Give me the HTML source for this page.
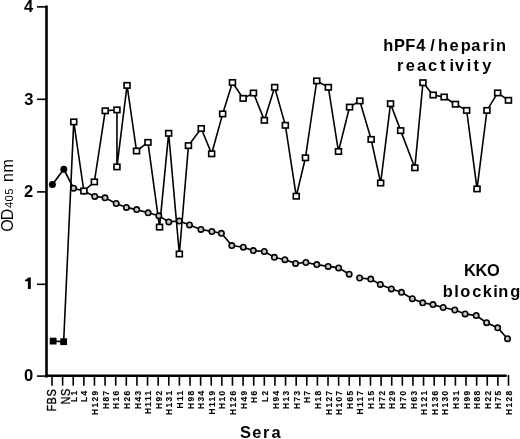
<!DOCTYPE html><html><head><meta charset="utf-8"><style>html,body{margin:0;padding:0;background:#fff;}svg{display:block;will-change:transform;}text{font-family:"Liberation Sans",sans-serif;}</style></head><body>
<svg width="520" height="439" viewBox="0 0 520 439">
<rect width="520" height="439" fill="#fff"/>
<g stroke="#000" fill="none" stroke-linecap="butt">
<line x1="46.5" y1="5.6" x2="46.5" y2="377.4" stroke-width="2.6"/>
<line x1="45.2" y1="375.85" x2="506.7" y2="375.85" stroke-width="2.5"/>
<line x1="37" y1="376.10" x2="46" y2="376.10" stroke-width="1.6"/>
<line x1="37" y1="284.30" x2="46" y2="284.30" stroke-width="1.6"/>
<line x1="37" y1="191.90" x2="46" y2="191.90" stroke-width="1.6"/>
<line x1="37" y1="99.30" x2="46" y2="99.30" stroke-width="1.6"/>
<line x1="37" y1="6.90" x2="46" y2="6.90" stroke-width="1.6"/>
<line x1="52.00" y1="376" x2="52.00" y2="385.7" stroke-width="1.6"/>
<line x1="62.62" y1="376" x2="62.62" y2="385.7" stroke-width="1.6"/>
<line x1="73.23" y1="376" x2="73.23" y2="385.7" stroke-width="1.6"/>
<line x1="83.85" y1="376" x2="83.85" y2="385.7" stroke-width="1.6"/>
<line x1="94.46" y1="376" x2="94.46" y2="385.7" stroke-width="1.6"/>
<line x1="105.08" y1="376" x2="105.08" y2="385.7" stroke-width="1.6"/>
<line x1="115.70" y1="376" x2="115.70" y2="385.7" stroke-width="1.6"/>
<line x1="126.31" y1="376" x2="126.31" y2="385.7" stroke-width="1.6"/>
<line x1="136.93" y1="376" x2="136.93" y2="385.7" stroke-width="1.6"/>
<line x1="147.54" y1="376" x2="147.54" y2="385.7" stroke-width="1.6"/>
<line x1="158.16" y1="376" x2="158.16" y2="385.7" stroke-width="1.6"/>
<line x1="168.78" y1="376" x2="168.78" y2="385.7" stroke-width="1.6"/>
<line x1="179.39" y1="376" x2="179.39" y2="385.7" stroke-width="1.6"/>
<line x1="190.01" y1="376" x2="190.01" y2="385.7" stroke-width="1.6"/>
<line x1="200.62" y1="376" x2="200.62" y2="385.7" stroke-width="1.6"/>
<line x1="211.24" y1="376" x2="211.24" y2="385.7" stroke-width="1.6"/>
<line x1="221.86" y1="376" x2="221.86" y2="385.7" stroke-width="1.6"/>
<line x1="232.47" y1="376" x2="232.47" y2="385.7" stroke-width="1.6"/>
<line x1="243.09" y1="376" x2="243.09" y2="385.7" stroke-width="1.6"/>
<line x1="253.70" y1="376" x2="253.70" y2="385.7" stroke-width="1.6"/>
<line x1="264.32" y1="376" x2="264.32" y2="385.7" stroke-width="1.6"/>
<line x1="274.94" y1="376" x2="274.94" y2="385.7" stroke-width="1.6"/>
<line x1="285.55" y1="376" x2="285.55" y2="385.7" stroke-width="1.6"/>
<line x1="296.17" y1="376" x2="296.17" y2="385.7" stroke-width="1.6"/>
<line x1="306.78" y1="376" x2="306.78" y2="385.7" stroke-width="1.6"/>
<line x1="317.40" y1="376" x2="317.40" y2="385.7" stroke-width="1.6"/>
<line x1="328.02" y1="376" x2="328.02" y2="385.7" stroke-width="1.6"/>
<line x1="338.63" y1="376" x2="338.63" y2="385.7" stroke-width="1.6"/>
<line x1="349.25" y1="376" x2="349.25" y2="385.7" stroke-width="1.6"/>
<line x1="359.86" y1="376" x2="359.86" y2="385.7" stroke-width="1.6"/>
<line x1="370.48" y1="376" x2="370.48" y2="385.7" stroke-width="1.6"/>
<line x1="381.10" y1="376" x2="381.10" y2="385.7" stroke-width="1.6"/>
<line x1="391.71" y1="376" x2="391.71" y2="385.7" stroke-width="1.6"/>
<line x1="402.33" y1="376" x2="402.33" y2="385.7" stroke-width="1.6"/>
<line x1="412.94" y1="376" x2="412.94" y2="385.7" stroke-width="1.6"/>
<line x1="423.56" y1="376" x2="423.56" y2="385.7" stroke-width="1.6"/>
<line x1="434.18" y1="376" x2="434.18" y2="385.7" stroke-width="1.6"/>
<line x1="444.79" y1="376" x2="444.79" y2="385.7" stroke-width="1.6"/>
<line x1="455.41" y1="376" x2="455.41" y2="385.7" stroke-width="1.6"/>
<line x1="466.02" y1="376" x2="466.02" y2="385.7" stroke-width="1.6"/>
<line x1="476.64" y1="376" x2="476.64" y2="385.7" stroke-width="1.6"/>
<line x1="487.26" y1="376" x2="487.26" y2="385.7" stroke-width="1.6"/>
<line x1="497.87" y1="376" x2="497.87" y2="385.7" stroke-width="1.6"/>
<line x1="508.49" y1="375" x2="508.49" y2="385.7" stroke-width="1.6"/>
</g>
<text x="24.07" y="381.1" font-size="16.5" font-weight="bold">0</text>
<path d="M30.8 277.4 L30.8 289.1 L27.9 289.1 L27.9 281.2 Q26.5 281.3 25.0 281.3 L25.0 279.7 Q27.2 279.3 28.2 277.4 Z" fill="#000"/>
<text x="24.11" y="196.9" font-size="16.5" font-weight="bold">2</text>
<text x="24.22" y="104.6" font-size="16.5" font-weight="bold">3</text>
<text x="24.03" y="11.8" font-size="16.5" font-weight="bold">4</text>
<text transform="translate(12.8,0) rotate(-90)" x="-231.82 -220.15" y="0" font-size="16">OD</text>
<text transform="translate(12.8,0) rotate(-90)" x="-208.01 -201.39 -194.83" y="0" font-size="11.3">405</text>
<text transform="translate(12.8,0) rotate(-90)" x="-182.06 -172.47" y="0" font-size="16">nm</text>
<text transform="translate(76.83,389.4) rotate(-90)" font-size="8.4" font-weight="bold" letter-spacing="1.4" text-anchor="end" stroke="#000" stroke-width="0.12">L1</text>
<text transform="translate(87.45,389.4) rotate(-90)" font-size="8.4" font-weight="bold" letter-spacing="1.4" text-anchor="end" stroke="#000" stroke-width="0.12">L4</text>
<text transform="translate(98.06,389.4) rotate(-90)" font-size="8.4" font-weight="bold" letter-spacing="1.4" text-anchor="end" stroke="#000" stroke-width="0.12">H129</text>
<text transform="translate(108.68,389.4) rotate(-90)" font-size="8.4" font-weight="bold" letter-spacing="1.4" text-anchor="end" stroke="#000" stroke-width="0.12">H87</text>
<text transform="translate(119.30,389.4) rotate(-90)" font-size="8.4" font-weight="bold" letter-spacing="1.4" text-anchor="end" stroke="#000" stroke-width="0.12">H16</text>
<text transform="translate(129.91,389.4) rotate(-90)" font-size="8.4" font-weight="bold" letter-spacing="1.4" text-anchor="end" stroke="#000" stroke-width="0.12">H26</text>
<text transform="translate(140.53,389.4) rotate(-90)" font-size="8.4" font-weight="bold" letter-spacing="1.4" text-anchor="end" stroke="#000" stroke-width="0.12">H43</text>
<text transform="translate(151.14,389.4) rotate(-90)" font-size="8.4" font-weight="bold" letter-spacing="1.4" text-anchor="end" stroke="#000" stroke-width="0.12">H111</text>
<text transform="translate(161.76,389.4) rotate(-90)" font-size="8.4" font-weight="bold" letter-spacing="1.4" text-anchor="end" stroke="#000" stroke-width="0.12">H92</text>
<text transform="translate(172.38,389.4) rotate(-90)" font-size="8.4" font-weight="bold" letter-spacing="1.4" text-anchor="end" stroke="#000" stroke-width="0.12">H131</text>
<text transform="translate(182.99,389.4) rotate(-90)" font-size="8.4" font-weight="bold" letter-spacing="1.4" text-anchor="end" stroke="#000" stroke-width="0.12">H11</text>
<text transform="translate(193.61,389.4) rotate(-90)" font-size="8.4" font-weight="bold" letter-spacing="1.4" text-anchor="end" stroke="#000" stroke-width="0.12">H98</text>
<text transform="translate(204.22,389.4) rotate(-90)" font-size="8.4" font-weight="bold" letter-spacing="1.4" text-anchor="end" stroke="#000" stroke-width="0.12">H34</text>
<text transform="translate(214.84,389.4) rotate(-90)" font-size="8.4" font-weight="bold" letter-spacing="1.4" text-anchor="end" stroke="#000" stroke-width="0.12">H119</text>
<text transform="translate(225.46,389.4) rotate(-90)" font-size="8.4" font-weight="bold" letter-spacing="1.4" text-anchor="end" stroke="#000" stroke-width="0.12">H10</text>
<text transform="translate(236.07,389.4) rotate(-90)" font-size="8.4" font-weight="bold" letter-spacing="1.4" text-anchor="end" stroke="#000" stroke-width="0.12">H126</text>
<text transform="translate(246.69,389.4) rotate(-90)" font-size="8.4" font-weight="bold" letter-spacing="1.4" text-anchor="end" stroke="#000" stroke-width="0.12">H49</text>
<text transform="translate(257.30,389.4) rotate(-90)" font-size="8.4" font-weight="bold" letter-spacing="1.4" text-anchor="end" stroke="#000" stroke-width="0.12">H6</text>
<text transform="translate(267.92,389.4) rotate(-90)" font-size="8.4" font-weight="bold" letter-spacing="1.4" text-anchor="end" stroke="#000" stroke-width="0.12">L2</text>
<text transform="translate(278.54,389.4) rotate(-90)" font-size="8.4" font-weight="bold" letter-spacing="1.4" text-anchor="end" stroke="#000" stroke-width="0.12">H94</text>
<text transform="translate(289.15,389.4) rotate(-90)" font-size="8.4" font-weight="bold" letter-spacing="1.4" text-anchor="end" stroke="#000" stroke-width="0.12">H13</text>
<text transform="translate(299.77,389.4) rotate(-90)" font-size="8.4" font-weight="bold" letter-spacing="1.4" text-anchor="end" stroke="#000" stroke-width="0.12">H73</text>
<text transform="translate(310.38,389.4) rotate(-90)" font-size="8.4" font-weight="bold" letter-spacing="1.4" text-anchor="end" stroke="#000" stroke-width="0.12">H7</text>
<text transform="translate(321.00,389.4) rotate(-90)" font-size="8.4" font-weight="bold" letter-spacing="1.4" text-anchor="end" stroke="#000" stroke-width="0.12">H18</text>
<text transform="translate(331.62,389.4) rotate(-90)" font-size="8.4" font-weight="bold" letter-spacing="1.4" text-anchor="end" stroke="#000" stroke-width="0.12">H127</text>
<text transform="translate(342.23,389.4) rotate(-90)" font-size="8.4" font-weight="bold" letter-spacing="1.4" text-anchor="end" stroke="#000" stroke-width="0.12">H107</text>
<text transform="translate(352.85,389.4) rotate(-90)" font-size="8.4" font-weight="bold" letter-spacing="1.4" text-anchor="end" stroke="#000" stroke-width="0.12">H65</text>
<text transform="translate(363.46,389.4) rotate(-90)" font-size="8.4" font-weight="bold" letter-spacing="1.4" text-anchor="end" stroke="#000" stroke-width="0.12">H117</text>
<text transform="translate(374.08,389.4) rotate(-90)" font-size="8.4" font-weight="bold" letter-spacing="1.4" text-anchor="end" stroke="#000" stroke-width="0.12">H15</text>
<text transform="translate(384.70,389.4) rotate(-90)" font-size="8.4" font-weight="bold" letter-spacing="1.4" text-anchor="end" stroke="#000" stroke-width="0.12">H72</text>
<text transform="translate(395.31,389.4) rotate(-90)" font-size="8.4" font-weight="bold" letter-spacing="1.4" text-anchor="end" stroke="#000" stroke-width="0.12">H29</text>
<text transform="translate(405.93,389.4) rotate(-90)" font-size="8.4" font-weight="bold" letter-spacing="1.4" text-anchor="end" stroke="#000" stroke-width="0.12">H70</text>
<text transform="translate(416.54,389.4) rotate(-90)" font-size="8.4" font-weight="bold" letter-spacing="1.4" text-anchor="end" stroke="#000" stroke-width="0.12">H63</text>
<text transform="translate(427.16,389.4) rotate(-90)" font-size="8.4" font-weight="bold" letter-spacing="1.4" text-anchor="end" stroke="#000" stroke-width="0.12">H121</text>
<text transform="translate(437.78,389.4) rotate(-90)" font-size="8.4" font-weight="bold" letter-spacing="1.4" text-anchor="end" stroke="#000" stroke-width="0.12">H136</text>
<text transform="translate(448.39,389.4) rotate(-90)" font-size="8.4" font-weight="bold" letter-spacing="1.4" text-anchor="end" stroke="#000" stroke-width="0.12">H130</text>
<text transform="translate(459.01,389.4) rotate(-90)" font-size="8.4" font-weight="bold" letter-spacing="1.4" text-anchor="end" stroke="#000" stroke-width="0.12">H31</text>
<text transform="translate(469.62,389.4) rotate(-90)" font-size="8.4" font-weight="bold" letter-spacing="1.4" text-anchor="end" stroke="#000" stroke-width="0.12">H99</text>
<text transform="translate(480.24,389.4) rotate(-90)" font-size="8.4" font-weight="bold" letter-spacing="1.4" text-anchor="end" stroke="#000" stroke-width="0.12">H88</text>
<text transform="translate(490.86,389.4) rotate(-90)" font-size="8.4" font-weight="bold" letter-spacing="1.4" text-anchor="end" stroke="#000" stroke-width="0.12">H22</text>
<text transform="translate(501.47,389.4) rotate(-90)" font-size="8.4" font-weight="bold" letter-spacing="1.4" text-anchor="end" stroke="#000" stroke-width="0.12">H75</text>
<text transform="translate(512.09,389.4) rotate(-90)" font-size="8.4" font-weight="bold" letter-spacing="1.4" text-anchor="end" stroke="#000" stroke-width="0.12">H128</text>
<text transform="translate(55.65,0) rotate(-90) scale(0.82,1)" x="-501.97 -493.24 -483.46" y="0" font-size="13.5" stroke="#000" stroke-width="0.35">FBS</text>
<text transform="translate(69.9,0) rotate(-90) scale(0.82,1)" x="-493.23 -482.79" y="0" font-size="13.5" stroke="#000" stroke-width="0.35">NS</text>
<text x="240.11 252.15 262.94 271.45" y="438.0" font-size="16.4" font-weight="bold">Sera</text>
<text x="383.13 394.01 405.14 416.36 430.32 438.03 449.60 460.79 471.15 482.39 490.13 495.96" y="51" font-size="16.4" font-weight="bold">hPF4/heparin</text>
<text x="397.04 405.80 416.95 428.06 439.97 449.38 454.94 466.73 473.52 482.27" y="71.1" font-size="16.4" font-weight="bold">reactivity</text>
<text x="464.06 475.61 486.98" y="275.9" font-size="16.4" font-weight="bold">KKO</text>
<text x="442.79 454.33 460.24 472.16 482.66 493.33 498.36 510.30" y="296.7" font-size="16.4" font-weight="bold">blocking</text>
<polyline points="52.4,184.4 63.800000000000004,169.3 73.6,188.20000000000002 83.8,191.0 94.8,196.4 105.0,197.8 116.19999999999999,203.5 126.39999999999999,207.4 136.7,209.6 148.1,212.8 158.79999999999998,215.8 168.79999999999998,221.9 179.29999999999998,221.0 189.5,224.9 200.9,229.4 211.9,231.5 221.4,233.3 231.79999999999998,245.6 243.29999999999998,247.20000000000002 253.29999999999998,250.6 264.3,251.5 274.40000000000003,257.29999999999995 284.90000000000003,259.7 295.6,263.4 305.90000000000003,262.5 316.8,264.59999999999997 328.20000000000005,266.4 338.6,267.9 349.20000000000005,274.2" fill="none" stroke="#000" stroke-width="1.65"/>
<polyline points="359.6,278.0 370.70000000000005,279.09999999999997 380.3,284.4 391.3,288.9 401.5,292.29999999999995 412.3,298.7 422.70000000000005,302.79999999999995 433.0,304.59999999999997 443.20000000000005,307.5 454.8,310.0 465.1,313.9 476.20000000000005,315.59999999999997 486.6,322.7 497.70000000000005,327.79999999999995 507.5,338.7" fill="none" stroke="#000" stroke-width="1.65"/>
<polyline points="53.15,341.09999999999997 63.65,341.7 73.75,121.9 83.85000000000001,191.0 94.35000000000001,181.9 105.25,110.80000000000001 116.95,109.9 116.95,166.9 127.05000000000001,85.4 136.55,151.0 147.95000000000002,142.4 159.55,227.1 168.65,133.3 179.35,254.0 188.45000000000002,145.6 201.25,128.5 211.65,153.8 222.65,113.9 232.45000000000002,82.5 243.15,98.4 253.45000000000002,93.0 264.34999999999997,120.30000000000001 274.65,87.30000000000001 285.34999999999997,125.30000000000001 296.25,196.20000000000002 305.45,157.8 316.75,80.9 328.34999999999997,87.30000000000001 338.45,151.5 349.54999999999995,107.10000000000001 359.84999999999997,100.9 371.15,139.4 380.65,183.0 390.54999999999995,103.7 400.65,130.6 414.84999999999997,167.8 422.95,82.7 433.15,95.0 444.15,97.0 455.45,104.2 466.65,110.4 477.04999999999995,188.9 486.95,110.4 497.65,92.9 508.45,100.30000000000001" fill="none" stroke="#000" stroke-width="1.6"/>
<circle cx="52.4" cy="184.4" r="3.5" fill="#000"/>
<circle cx="63.800000000000004" cy="169.3" r="3.5" fill="#000"/>
<circle cx="73.6" cy="188.20000000000002" r="2.7" fill="#c8c8c8" stroke="#000" stroke-width="1.6"/>
<circle cx="83.8" cy="191.0" r="2.7" fill="#c8c8c8" stroke="#000" stroke-width="1.6"/>
<circle cx="94.8" cy="196.4" r="2.7" fill="#c8c8c8" stroke="#000" stroke-width="1.6"/>
<circle cx="105.0" cy="197.8" r="2.7" fill="#c8c8c8" stroke="#000" stroke-width="1.6"/>
<circle cx="116.19999999999999" cy="203.5" r="2.7" fill="#c8c8c8" stroke="#000" stroke-width="1.6"/>
<circle cx="126.39999999999999" cy="207.4" r="2.7" fill="#c8c8c8" stroke="#000" stroke-width="1.6"/>
<circle cx="136.7" cy="209.6" r="2.7" fill="#c8c8c8" stroke="#000" stroke-width="1.6"/>
<circle cx="148.1" cy="212.8" r="2.7" fill="#c8c8c8" stroke="#000" stroke-width="1.6"/>
<circle cx="158.79999999999998" cy="215.8" r="2.7" fill="#c8c8c8" stroke="#000" stroke-width="1.6"/>
<circle cx="168.79999999999998" cy="221.9" r="2.7" fill="#c8c8c8" stroke="#000" stroke-width="1.6"/>
<circle cx="179.29999999999998" cy="221.0" r="2.7" fill="#c8c8c8" stroke="#000" stroke-width="1.6"/>
<circle cx="189.5" cy="224.9" r="2.7" fill="#c8c8c8" stroke="#000" stroke-width="1.6"/>
<circle cx="200.9" cy="229.4" r="2.7" fill="#c8c8c8" stroke="#000" stroke-width="1.6"/>
<circle cx="211.9" cy="231.5" r="2.7" fill="#c8c8c8" stroke="#000" stroke-width="1.6"/>
<circle cx="221.4" cy="233.3" r="2.7" fill="#c8c8c8" stroke="#000" stroke-width="1.6"/>
<circle cx="231.79999999999998" cy="245.6" r="2.7" fill="#c8c8c8" stroke="#000" stroke-width="1.6"/>
<circle cx="243.29999999999998" cy="247.20000000000002" r="2.7" fill="#c8c8c8" stroke="#000" stroke-width="1.6"/>
<circle cx="253.29999999999998" cy="250.6" r="2.7" fill="#c8c8c8" stroke="#000" stroke-width="1.6"/>
<circle cx="264.3" cy="251.5" r="2.7" fill="#c8c8c8" stroke="#000" stroke-width="1.6"/>
<circle cx="274.40000000000003" cy="257.29999999999995" r="2.7" fill="#c8c8c8" stroke="#000" stroke-width="1.6"/>
<circle cx="284.90000000000003" cy="259.7" r="2.7" fill="#c8c8c8" stroke="#000" stroke-width="1.6"/>
<circle cx="295.6" cy="263.4" r="2.7" fill="#c8c8c8" stroke="#000" stroke-width="1.6"/>
<circle cx="305.90000000000003" cy="262.5" r="2.7" fill="#c8c8c8" stroke="#000" stroke-width="1.6"/>
<circle cx="316.8" cy="264.59999999999997" r="2.7" fill="#c8c8c8" stroke="#000" stroke-width="1.6"/>
<circle cx="328.20000000000005" cy="266.4" r="2.7" fill="#c8c8c8" stroke="#000" stroke-width="1.6"/>
<circle cx="338.6" cy="267.9" r="2.7" fill="#c8c8c8" stroke="#000" stroke-width="1.6"/>
<circle cx="349.20000000000005" cy="274.2" r="2.7" fill="#c8c8c8" stroke="#000" stroke-width="1.6"/>
<circle cx="359.6" cy="278.0" r="2.7" fill="#c8c8c8" stroke="#000" stroke-width="1.6"/>
<circle cx="370.70000000000005" cy="279.09999999999997" r="2.7" fill="#c8c8c8" stroke="#000" stroke-width="1.6"/>
<circle cx="380.3" cy="284.4" r="2.7" fill="#c8c8c8" stroke="#000" stroke-width="1.6"/>
<circle cx="391.3" cy="288.9" r="2.7" fill="#c8c8c8" stroke="#000" stroke-width="1.6"/>
<circle cx="401.5" cy="292.29999999999995" r="2.7" fill="#c8c8c8" stroke="#000" stroke-width="1.6"/>
<circle cx="412.3" cy="298.7" r="2.7" fill="#c8c8c8" stroke="#000" stroke-width="1.6"/>
<circle cx="422.70000000000005" cy="302.79999999999995" r="2.7" fill="#c8c8c8" stroke="#000" stroke-width="1.6"/>
<circle cx="433.0" cy="304.59999999999997" r="2.7" fill="#c8c8c8" stroke="#000" stroke-width="1.6"/>
<circle cx="443.20000000000005" cy="307.5" r="2.7" fill="#c8c8c8" stroke="#000" stroke-width="1.6"/>
<circle cx="454.8" cy="310.0" r="2.7" fill="#c8c8c8" stroke="#000" stroke-width="1.6"/>
<circle cx="465.1" cy="313.9" r="2.7" fill="#c8c8c8" stroke="#000" stroke-width="1.6"/>
<circle cx="476.20000000000005" cy="315.59999999999997" r="2.7" fill="#c8c8c8" stroke="#000" stroke-width="1.6"/>
<circle cx="486.6" cy="322.7" r="2.7" fill="#c8c8c8" stroke="#000" stroke-width="1.6"/>
<circle cx="497.70000000000005" cy="327.79999999999995" r="2.7" fill="#c8c8c8" stroke="#000" stroke-width="1.6"/>
<circle cx="507.5" cy="338.7" r="2.7" fill="#c8c8c8" stroke="#000" stroke-width="1.6"/>
<rect x="49.75" y="337.7" width="6.8" height="6.8" fill="#000"/>
<rect x="60.25" y="338.3" width="6.8" height="6.8" fill="#000"/>
<rect x="70.80" y="119.20" width="5.9" height="5.4" fill="#fff" stroke="#000" stroke-width="1.65"/>
<rect x="80.90" y="188.30" width="5.9" height="5.4" fill="#fff" stroke="#000" stroke-width="1.65"/>
<rect x="91.40" y="179.20" width="5.9" height="5.4" fill="#fff" stroke="#000" stroke-width="1.65"/>
<rect x="102.30" y="108.10" width="5.9" height="5.4" fill="#fff" stroke="#000" stroke-width="1.65"/>
<rect x="114.00" y="107.20" width="5.9" height="5.4" fill="#fff" stroke="#000" stroke-width="1.65"/>
<rect x="114.00" y="164.20" width="5.9" height="5.4" fill="#fff" stroke="#000" stroke-width="1.65"/>
<rect x="124.10" y="82.70" width="5.9" height="5.4" fill="#fff" stroke="#000" stroke-width="1.65"/>
<rect x="133.60" y="148.30" width="5.9" height="5.4" fill="#fff" stroke="#000" stroke-width="1.65"/>
<rect x="145.00" y="139.70" width="5.9" height="5.4" fill="#fff" stroke="#000" stroke-width="1.65"/>
<rect x="156.60" y="224.40" width="5.9" height="5.4" fill="#fff" stroke="#000" stroke-width="1.65"/>
<rect x="165.70" y="130.60" width="5.9" height="5.4" fill="#fff" stroke="#000" stroke-width="1.65"/>
<rect x="176.40" y="251.30" width="5.9" height="5.4" fill="#fff" stroke="#000" stroke-width="1.65"/>
<rect x="185.50" y="142.90" width="5.9" height="5.4" fill="#fff" stroke="#000" stroke-width="1.65"/>
<rect x="198.30" y="125.80" width="5.9" height="5.4" fill="#fff" stroke="#000" stroke-width="1.65"/>
<rect x="208.70" y="151.10" width="5.9" height="5.4" fill="#fff" stroke="#000" stroke-width="1.65"/>
<rect x="219.70" y="111.20" width="5.9" height="5.4" fill="#fff" stroke="#000" stroke-width="1.65"/>
<rect x="229.50" y="79.80" width="5.9" height="5.4" fill="#fff" stroke="#000" stroke-width="1.65"/>
<rect x="240.20" y="95.70" width="5.9" height="5.4" fill="#fff" stroke="#000" stroke-width="1.65"/>
<rect x="250.50" y="90.30" width="5.9" height="5.4" fill="#fff" stroke="#000" stroke-width="1.65"/>
<rect x="261.40" y="117.60" width="5.9" height="5.4" fill="#fff" stroke="#000" stroke-width="1.65"/>
<rect x="271.70" y="84.60" width="5.9" height="5.4" fill="#fff" stroke="#000" stroke-width="1.65"/>
<rect x="282.40" y="122.60" width="5.9" height="5.4" fill="#fff" stroke="#000" stroke-width="1.65"/>
<rect x="293.30" y="193.50" width="5.9" height="5.4" fill="#fff" stroke="#000" stroke-width="1.65"/>
<rect x="302.50" y="155.10" width="5.9" height="5.4" fill="#fff" stroke="#000" stroke-width="1.65"/>
<rect x="313.80" y="78.20" width="5.9" height="5.4" fill="#fff" stroke="#000" stroke-width="1.65"/>
<rect x="325.40" y="84.60" width="5.9" height="5.4" fill="#fff" stroke="#000" stroke-width="1.65"/>
<rect x="335.50" y="148.80" width="5.9" height="5.4" fill="#fff" stroke="#000" stroke-width="1.65"/>
<rect x="346.60" y="104.40" width="5.9" height="5.4" fill="#fff" stroke="#000" stroke-width="1.65"/>
<rect x="356.90" y="98.20" width="5.9" height="5.4" fill="#fff" stroke="#000" stroke-width="1.65"/>
<rect x="368.20" y="136.70" width="5.9" height="5.4" fill="#fff" stroke="#000" stroke-width="1.65"/>
<rect x="377.70" y="180.30" width="5.9" height="5.4" fill="#fff" stroke="#000" stroke-width="1.65"/>
<rect x="387.60" y="101.00" width="5.9" height="5.4" fill="#fff" stroke="#000" stroke-width="1.65"/>
<rect x="397.70" y="127.90" width="5.9" height="5.4" fill="#fff" stroke="#000" stroke-width="1.65"/>
<rect x="411.90" y="165.10" width="5.9" height="5.4" fill="#fff" stroke="#000" stroke-width="1.65"/>
<rect x="420.00" y="80.00" width="5.9" height="5.4" fill="#fff" stroke="#000" stroke-width="1.65"/>
<rect x="430.20" y="92.30" width="5.9" height="5.4" fill="#fff" stroke="#000" stroke-width="1.65"/>
<rect x="441.20" y="94.30" width="5.9" height="5.4" fill="#fff" stroke="#000" stroke-width="1.65"/>
<rect x="452.50" y="101.50" width="5.9" height="5.4" fill="#fff" stroke="#000" stroke-width="1.65"/>
<rect x="463.70" y="107.70" width="5.9" height="5.4" fill="#fff" stroke="#000" stroke-width="1.65"/>
<rect x="474.10" y="186.20" width="5.9" height="5.4" fill="#fff" stroke="#000" stroke-width="1.65"/>
<rect x="484.00" y="107.70" width="5.9" height="5.4" fill="#fff" stroke="#000" stroke-width="1.65"/>
<rect x="494.70" y="90.20" width="5.9" height="5.4" fill="#fff" stroke="#000" stroke-width="1.65"/>
<rect x="505.50" y="97.60" width="5.9" height="5.4" fill="#fff" stroke="#000" stroke-width="1.65"/>
</svg></body></html>
